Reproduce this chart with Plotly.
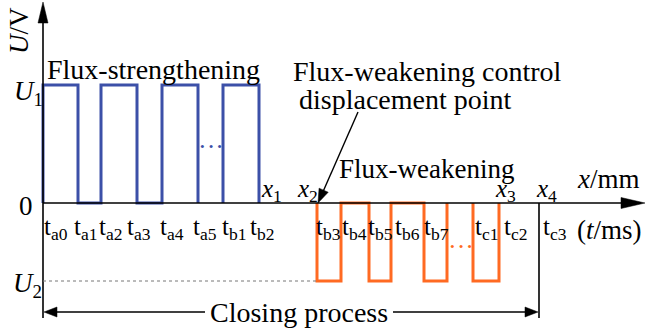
import plotly.graph_objects as go

W, H = 646, 333
OX, OY = 43, 203          # pixel position of the origin (t = 0, U = 0)
PX_PER_U = 118            # pixels per voltage unit

# ---------------- data ----------------
U1 = 1.0
U2 = -0.66
# switching instants (time axis, arbitrary units from t_a0)
strength_edges = [0, 35, 58, 94, 119, 155, 180, 216]      # t_a0 .. t_b2
weaken_edges = [274, 298, 326, 348, 381, 404, 430, 456]   # t_b3 .. x3
strength_gap_after = 3   # pulses before the "..." gap
weaken_gap_after = 3
x_points = [216, 274, 456, 496]                           # x1, x2, x3, x4
x_point_names = ["1", "2", "3", "4"]
t_labels = ["a0", "a1", "a2", "a3", "a4", "a5", "b1", "b2",
            "b3", "b4", "b5", "b6", "b7", "c1", "c2", "c3"]

FONT = "Liberation Serif, Times New Roman, serif"
BLUE = "#3c50a8"
ORANGE = "#ff6a22"


def X(px):
    return px - OX


def Y(py):
    return (OY - py) / PX_PER_U


def wave(edges, level, gap_after):
    xs, ys = [], []
    pulses = list(zip(edges[0::2], edges[1::2]))
    for i, (a, b) in enumerate(pulses):
        xs += [a, a, b, b]
        ys += [0, level, level, 0]
        if i == gap_after - 1:
            xs.append(None)
            ys.append(None)
    return xs, ys


fig = go.Figure()

shapes = []
def seg(x0, y0, x1, y1, color="black", width=1.6, dash=None):
    d = dict(type="line", xref="x", yref="y", x0=X(x0), y0=Y(y0), x1=X(x1), y1=Y(y1),
             line=dict(color=color, width=width))
    if dash:
        d["line"]["dash"] = dash
    shapes.append(d)

seg(43, 318, 43, 12)            # y axis
seg(43, 203, 630, 203)          # x axis
seg(539, 203, 539, 318)         # x4 end line
seg(43, 281, 317, 281, color="#777777", width=1, dash="dot")   # U2 level guide
seg(205, 312, 52, 312, width=1.6)   # closing process arrow (left)
seg(393, 312, 530, 312, width=1.6)  # closing process arrow (right)
seg(358, 112, 322, 194, width=1.4)  # pointer line

# waveforms
bx, by = wave(strength_edges, U1, strength_gap_after)
fig.add_trace(go.Scatter(x=bx, y=by, mode="lines", line=dict(color=BLUE, width=3),
                         hoverinfo="skip", showlegend=False))
ox, oy = wave(weaken_edges, U2, weaken_gap_after)
fig.add_trace(go.Scatter(x=ox, y=oy, mode="lines", line=dict(color=ORANGE, width=3),
                         hoverinfo="skip", showlegend=False))


def arrowhead(tx, ty, dx, dy, L, w):
    n = (dx * dx + dy * dy) ** 0.5
    dx, dy = dx / n, dy / n
    bxp, byp = tx - L * dx, ty - L * dy
    nx, ny = -dy, dx
    pts = [(tx, ty), (bxp + nx * w / 2, byp + ny * w / 2), (bxp - nx * w / 2, byp - ny * w / 2), (tx, ty)]
    fig.add_trace(go.Scatter(x=[X(p[0]) for p in pts], y=[Y(p[1]) for p in pts],
                             mode="lines", fill="toself", fillcolor="black",
                             line=dict(color="black", width=0.5),
                             hoverinfo="skip", showlegend=False))

arrowhead(43, 2, 0, -1, 21, 10)       # y axis
arrowhead(645, 203, 1, 0, 24, 11)     # x axis
arrowhead(44, 312, -1, 0, 13, 10)     # closing left
arrowhead(538, 312, 1, 0, 13, 10)     # closing right
arrowhead(318, 203, -40, 91, 14, 10)  # pointer

ann = []
def text(px, py, s, size=28, color="black", xanchor="center", angle=0):
    ann.append(dict(x=X(px), y=Y(py), xref="x", yref="y", text=s, showarrow=False,
                    font=dict(family=FONT, size=size, color=color),
                    xanchor=xanchor, yanchor="middle", textangle=angle))

# tick-like time labels
t_label_px = [56, 85, 110, 139, 172, 205, 234, 262,
              328, 354, 380, 407, 436, 486, 515, 555]
for px, lab in zip(t_label_px, t_labels):
    text(px, 228, "t<sub>%s</sub>" % lab, size=25)

# displacement points
x_point_px = [271, 307, 505, 546]
for px, name in zip(x_point_px, x_point_names):
    text(px, 190, "<i>x</i><sub>%s</sub>" % name, size=25)

text(26, 206, "0", size=27)
text(28, 93, "<i>U</i><sub>1</sub>", size=27)
text(27, 285, "<i>U</i><sub>2</sub>", size=27)
text(19, 31, "<i>U</i>/V", size=27, angle=-90)
text(608, 179, "<i>x</i>/mm", size=27)
text(609, 230, "(<i>t</i>/ms)", size=27)
text(153, 69, "Flux-strengthening")
text(291, 71, "Flux-weakening control", xanchor="left")
text(297, 99, "displacement point", xanchor="left")
text(426, 169, "Flux-weakening", size=27)
text(299, 312, "Closing process")
text(211, 146, "···", size=26, color=BLUE)
text(461, 246, "···", size=26, color=ORANGE)

fig.update_layout(
    width=W, height=H, margin=dict(l=0, r=0, t=0, b=0),
    paper_bgcolor="white", plot_bgcolor="white",
    xaxis=dict(range=[X(0), X(W)], visible=False, fixedrange=True),
    yaxis=dict(range=[Y(H), Y(0)], visible=False, fixedrange=True),
    shapes=shapes, annotations=ann, showlegend=False,
)

fig.write_html("out.html", config={"displayModeBar": False},
               post_script="document.body.style.margin='0px';")
